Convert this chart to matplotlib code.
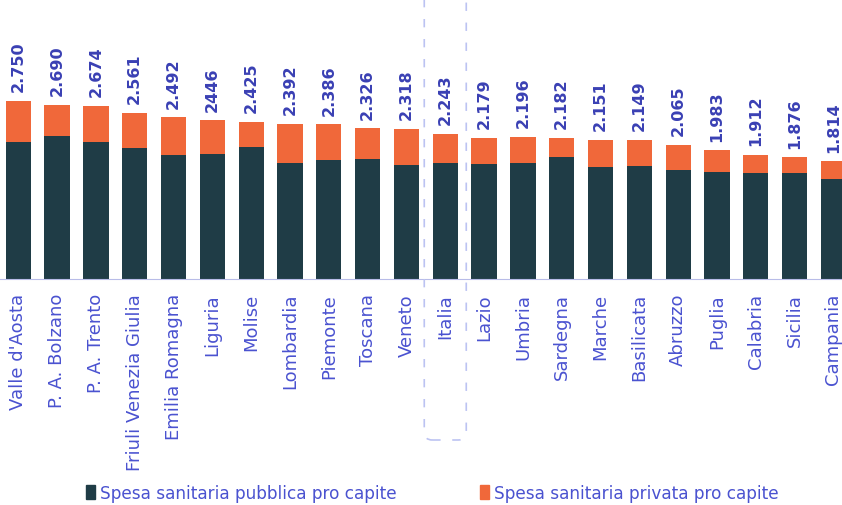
import numpy as np
import matplotlib.pyplot as plt
from matplotlib.patches import FancyBboxPatch, Patch
from matplotlib.transforms import IdentityTransform

# spesa sanitaria pro capite per regione (euro)
regioni = ["Valle d'Aosta", "P. A. Bolzano", "P. A. Trento", "Friuli Venezia Giulia",
           "Emilia Romagna", "Liguria", "Molise", "Lombardia", "Piemonte", "Toscana",
           "Veneto", "Italia", "Lazio", "Umbria", "Sardegna", "Marche", "Basilicata",
           "Abruzzo", "Puglia", "Calabria", "Sicilia", "Campania"]
totale = [2750, 2690, 2674, 2561, 2492, 2446, 2425, 2392, 2386, 2326, 2318,
          2243, 2179, 2196, 2182, 2151, 2149, 2065, 1983, 1912, 1876, 1814]
etichette = ["2.750", "2.690", "2.674", "2.561", "2.492", "2446", "2.425", "2.392",
             "2.386", "2.326", "2.318", "2.243", "2.179", "2.196", "2.182", "2.151",
             "2.149", "2.065", "1.983", "1.912", "1.876", "1.814"]
pubblica = [2120, 2212, 2120, 2024, 1916, 1936, 2033, 1786, 1837, 1848, 1756,
            1797, 1776, 1791, 1883, 1725, 1740, 1683, 1653, 1628, 1632, 1540]
privata = [t - p for t, p in zip(totale, pubblica)]

c_pub = '#1f3c46'
c_priv = '#f0683a'
c_txt = '#4a52d0'
c_val = '#3a40b4'

W, H = 842, 506
fig = plt.figure(figsize=(W / 100, H / 100), dpi=100)
ax = fig.add_axes([0, 1 - 280 / H, 1, 280 / H])

x = np.arange(len(regioni))
ax.bar(x, pubblica, width=0.65, color=c_pub)
ax.bar(x, privata, bottom=pubblica, width=0.65, color=c_priv)

for xi, t, lab in zip(x, totale, etichette):
    ax.text(xi, t + 150, lab, rotation=90, ha='center', va='bottom',
            fontsize=11.5, fontweight='bold', color=c_val)

ax.set_xlim(-0.47, 21.22)
ax.set_ylim(0, 4320)
ax.set_yticks([])
ax.set_xticks(x)
ax.set_xticklabels(regioni, rotation=90, fontsize=13, color=c_txt)
ax.tick_params(axis='x', length=0, pad=10)
for s in ['top', 'left', 'right']:
    ax.spines[s].set_visible(False)
ax.spines['bottom'].set_color('#b8bce8')

# riquadro tratteggiato attorno al dato nazionale
xc = ax.transData.transform((11, 0))[0]
box = FancyBboxPatch((xc - 21, H - 441), 42, 460,
                     boxstyle='round,pad=0,rounding_size=8',
                     transform=IdentityTransform(), fill=False,
                     edgecolor='#bcc3f2', linestyle=(0, (5, 7)), linewidth=1.2)
fig.add_artist(box)

# due voci di legenda, posizionate separatamente
voci = [(c_pub, 'Spesa sanitaria pubblica pro capite', 86),
        (c_priv, 'Spesa sanitaria privata pro capite', 480)]
for col, lab, px in voci:
    leg = fig.legend(handles=[Patch(color=col, label=lab)], loc='center left',
                     bbox_to_anchor=(px / W, 1 - 494 / H), frameon=False,
                     fontsize=12.2, handlelength=0.55, handleheight=0.85,
                     handletextpad=0.25, borderpad=0, borderaxespad=0)
    leg.get_texts()[0].set_color(c_txt)

fig.savefig('out.png', dpi=100)
